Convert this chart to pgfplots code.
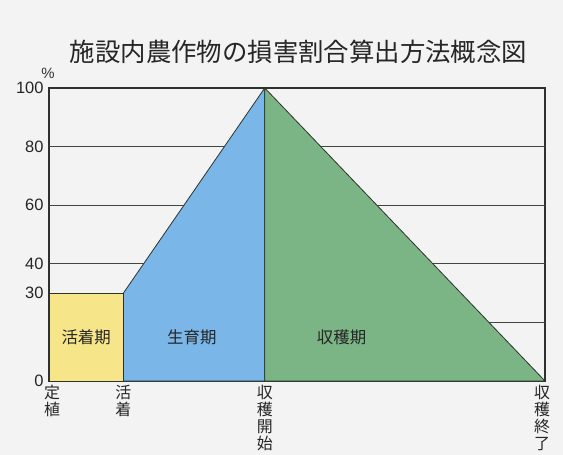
\documentclass[border=0pt]{standalone}
\usepackage{pgfplots}
\pgfplotsset{compat=1.18}
\usepackage{fontspec}
\setmainfont{Liberation Sans}
\newfontfamily\jp{Noto Sans CJK JP}
\definecolor{bg}{RGB}{244,243,243}
\definecolor{cyellow}{RGB}{246,229,137}
\definecolor{cblue}{RGB}{122,182,232}
\definecolor{cgreen}{RGB}{124,181,133}
\definecolor{edge}{RGB}{45,50,45}
\begin{document}
\begin{tikzpicture}
\fill[bg] (-49bp,-74bp) rectangle (514bp,381bp);
\useasboundingbox (-49bp,-74bp) rectangle (514bp,381bp);
\begin{axis}[
  at={(0,0)}, anchor=south west,
  scale only axis, width=496bp, height=293bp,
  xmin=0, xmax=100, ymin=0, ymax=100,
  axis line style={edge, line width=1.1pt},
  major tick length=0pt,
  ytick={0,30,40,60,80,100},
  yticklabel style={font=\fontsize{16.5}{16.5}\selectfont, xshift=-2bp, text=black!85},
  /pgf/number format/assume math mode=true,
  extra y ticks={20,40,60,80},
  extra y tick labels={},
  extra y tick style={grid=major, major grid style={edge!90, line width=0.9pt}},
  xtick={0.6,15,43.5,99.4},
  xticklabels={定\\植, 活\\着, 収\\穫\\開\\始, 収\\穫\\終\\了},
  xticklabel style={font=\jp\fontsize{16}{17}\selectfont, align=center, anchor=north, inner sep=0pt, yshift=-4bp, text=black!85},
]
\addplot[fill=cyellow, draw=edge, line width=0.8pt] coordinates {(0,0) (0,30) (15,30) (15,0)} -- cycle;
\addplot[fill=cblue, draw=edge, line width=0.8pt] coordinates {(15,0) (15,30) (43.5,100) (43.5,0)} -- cycle;
\addplot[fill=cgreen, draw=edge, line width=0.8pt] coordinates {(43.5,0) (43.5,100) (100,0)} -- cycle;
\node[font=\jp\fontsize{16.5}{17}\selectfont, text=black!85] at (axis cs:7.5,15) {活着期};
\node[font=\jp\fontsize{16.5}{17}\selectfont, text=black!85] at (axis cs:28.8,15) {生育期};
\node[font=\jp\fontsize{16.5}{17}\selectfont, text=black!85] at (axis cs:59,15) {収穫期};
\end{axis}
\node[font=\jp\fontsize{25.5}{25.5}\selectfont, text=black!85] at (249.5bp,329bp) {施設内農作物の損害割合算出方法概念図};
\node[font=\fontsize{15}{15}\selectfont, text=black!80] at (-1bp,308bp) {\%};
\end{tikzpicture}
\end{document}
